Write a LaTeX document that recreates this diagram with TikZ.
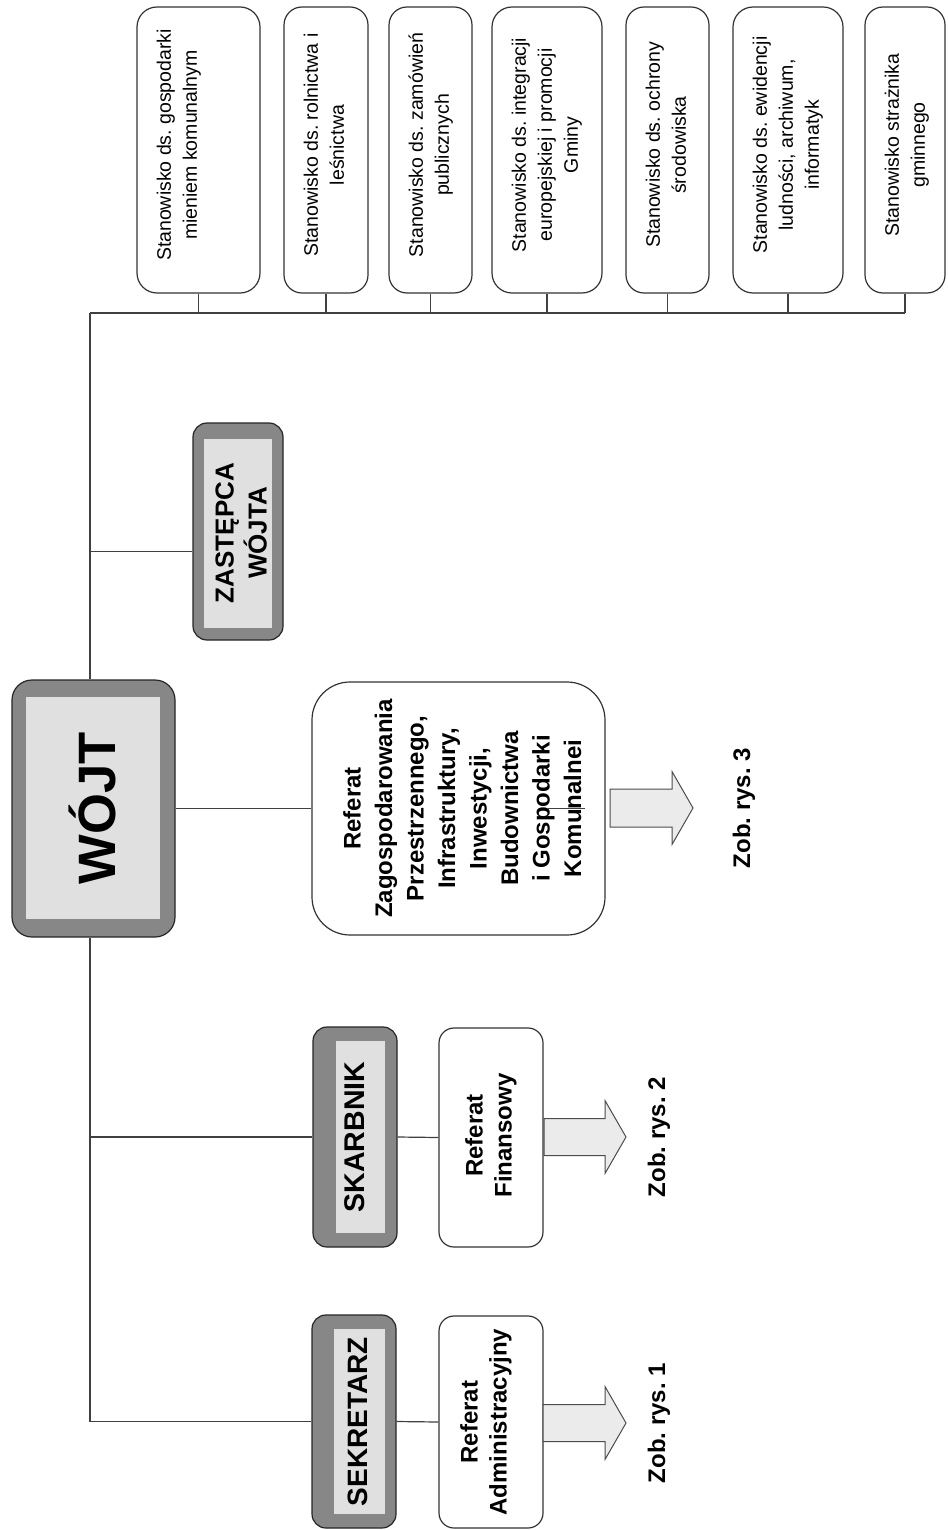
\documentclass[tikz,border=0pt]{standalone}
\usepackage{fontspec}
\setmainfont{Liberation Sans}
\newcommand{\mylines}[1]{\begin{tabular}{@{}c@{}}#1\end{tabular}}
\begin{document}
\frenchspacing
\begin{tikzpicture}[x=1pt,y=-1pt,
  conn/.style={draw=black!75,line width=1.2pt},
  plainbox/.style={draw=black!80,line width=1.2pt,fill=white,rectangle,inner sep=0pt},
  chiefbox/.style={draw=black!85,line width=1.2pt,fill=black!47,rectangle,inner sep=0pt,rounded corners=14pt},
  innerfill/.style={fill=black!12},
  smalltxt/.style={rotate=90,anchor=north,inner sep=0pt,font=\fontsize{19.5}{26}\selectfont},
  boldtxt/.style={rotate=90,anchor=north,inner sep=0pt,font=\bfseries\fontsize{24}{29}\selectfont},
  chieftxt/.style={rotate=90,anchor=base,inner sep=0pt,font=\bfseries\fontsize{28}{34}\selectfont},
  barrow/.style={draw=black!70,line width=1pt,fill=black!8},
  zob/.style={rotate=90,anchor=base,inner sep=0pt,font=\bfseries\fontsize{24}{29}\selectfont}
]
\fill[white] (0,0) rectangle (947,1530);
\useasboundingbox (0,0) rectangle (947,1530);

% top row of positions
\node[plainbox,rounded corners=20pt,minimum width=123pt,minimum height=286pt] (s1) at (198.5,150) {};
\node[plainbox,rounded corners=18pt,minimum width=84pt,minimum height=286pt] (s2) at (326,150) {};
\node[plainbox,rounded corners=18pt,minimum width=83pt,minimum height=286pt] (s3) at (430.5,150) {};
\node[plainbox,rounded corners=20pt,minimum width=110pt,minimum height=286pt] (s4) at (547,150) {};
\node[plainbox,rounded corners=18pt,minimum width=83pt,minimum height=286pt] (s5) at (667.5,150) {};
\node[plainbox,rounded corners=20pt,minimum width=110pt,minimum height=286pt] (s6) at (788,150) {};
\node[plainbox,rounded corners=18pt,minimum width=80pt,minimum height=286pt] (s7) at (905,150) {};

\node[smalltxt] (t1) at ([xshift=16pt,yshift=5pt]s1.west) {\mylines{Stanowisko ds. gospodarki\\mieniem komunalnym}};
\node[smalltxt] (t2) at ([xshift=16pt,yshift=5pt]s2.west) {\mylines{Stanowisko ds. rolnictwa i\\leśnictwa}};
\node[smalltxt] (t3) at ([xshift=16pt,yshift=5pt]s3.west) {\mylines{Stanowisko ds. zamówień\\publicznych}};
\node[smalltxt] (t4) at ([xshift=16pt,yshift=5pt]s4.west) {\mylines{Stanowisko ds. integracji\\europejskiej i promocji\\Gminy}};
\node[smalltxt] (t5) at ([xshift=16pt,yshift=5pt]s5.west) {\mylines{Stanowisko ds. ochrony\\środowiska}};
\node[smalltxt] (t6) at ([xshift=16pt,yshift=5pt]s6.west) {\mylines{Stanowisko ds. ewidencji\\ludności, archiwum,\\informatyk}};
\node[smalltxt] (t7) at ([xshift=16pt,yshift=5pt]s7.west) {\mylines{Stanowisko strażnika\\gminnego}};

% chief boxes
\node[chiefbox,rounded corners=20pt,minimum width=163pt,minimum height=257pt] (wojt) at (93.5,808.5) {};
\fill[innerfill] ([xshift=15pt,yshift=-18pt]wojt.north west) rectangle ([xshift=-16pt,yshift=19pt]wojt.south east);
\node[rotate=90,anchor=base,inner sep=0pt,font=\bfseries\fontsize{52.6}{60}\selectfont] (wt) at ([xshift=21.5pt]wojt.center) {WÓJT};

\node[chiefbox,minimum width=90pt,minimum height=217pt] (zast) at (238,531.5) {};
\fill[innerfill] ([xshift=12pt,yshift=-17pt]zast.north west) rectangle ([xshift=-12pt,yshift=13pt]zast.south east);
\node[rotate=90,anchor=north,inner sep=0pt,font=\bfseries\fontsize{26}{33}\selectfont] (zt) at ([xshift=18pt,yshift=-1.5pt]zast.west) {\mylines{ZASTĘPCA\\WÓJTA}};

\node[chiefbox,minimum width=84pt,minimum height=220pt] (skarb) at (355,1137) {};
\fill[innerfill] ([xshift=24pt,yshift=-15pt]skarb.north west) rectangle ([xshift=-13pt,yshift=15pt]skarb.south east);
\node[chieftxt,font=\bfseries\fontsize{28.5}{34}\selectfont] (skt) at ([xshift=9pt]skarb.center) {SKARBNIK};

\node[chiefbox,minimum width=84pt,minimum height=213pt] (sekr) at (354,1421.5) {};
\fill[innerfill] ([xshift=23pt,yshift=-15pt]sekr.north west) rectangle ([xshift=-12pt,yshift=15pt]sekr.south east);
\node[chieftxt] (sekt) at ([xshift=13pt]sekr.center) {SEKRETARZ};

% departments
\node[plainbox,rounded corners=38pt,minimum width=293pt,minimum height=253pt] (rzag) at (458.5,808.5) {};
\node[boldtxt,font=\bfseries\fontsize{24}{31.5}\selectfont] (rzt) at ([xshift=27pt]rzag.west) {\mylines{Referat\\Zagospodarowania\\Przestrzennego,\\Infrastruktury,\\Inwestycji,\\Budownictwa\\i Gospodarki\\Komunalnei}};
\draw[conn,line width=1pt] ([xshift=89.5pt]rzag.center) -- ([xshift=126.5pt]rzag.center);

\node[plainbox,rounded corners=15pt,minimum width=104pt,minimum height=219pt] (rfin) at (491,1137.5) {};
\node[boldtxt] (rft) at ([xshift=23.7pt,yshift=2pt]rfin.west) {\mylines{Referat\\Finansowy}};

\node[plainbox,rounded corners=15pt,minimum width=104pt,minimum height=212pt] (radm) at (491,1422) {};
\node[boldtxt] (rat) at ([xshift=18.7pt]radm.west) {\mylines{Referat\\Administracyjny}};

% block arrows
\draw[barrow] (610,789) -- (672,789) -- (672,771.5) -- (693,808) -- (672,844.5) -- (672,827) -- (610,827) -- cycle;
\draw[barrow] (544,1118.5) -- (605,1118.5) -- (605,1100.5) -- (626,1137) -- (605,1173.5) -- (605,1155.5) -- (544,1155.5) -- cycle;
\draw[barrow] (543,1404.5) -- (605,1404.5) -- (605,1386.5) -- (626,1423) -- (605,1459.5) -- (605,1441.5) -- (543,1441.5) -- cycle;

\node[zob] (z3) at (750,808) {Zob. rys. 3};
\node[zob] (z2) at (665,1137) {Zob. rys. 2};
\node[zob] (z1) at (665,1423) {Zob. rys. 1};

% connectors
\coordinate (tl) at (90,313);
\draw[conn] (tl) -- (s7.south |- tl);
\foreach \s in {s1,s2,s3,s4,s5,s6,s7} {\draw[conn] (\s.south) -- (\s.south |- tl);}
\draw[conn] (tl) -- (tl |- wojt.north);
\draw[conn] (tl |- wojt.south) -- (tl |- sekr.west) -- (sekr.west);
\coordinate (zin) at ([yshift=-20pt]zast.west);
\draw[conn] (tl |- zin) -- (zin);
\draw[conn] (tl |- skarb.west) -- (skarb.west);
\draw[conn] (wojt.east) -- (rzag.west);
\draw[conn] (skarb.east) -- (rfin.west);
\draw[conn] (sekr.east) -- (radm.west);
\end{tikzpicture}
\end{document}
